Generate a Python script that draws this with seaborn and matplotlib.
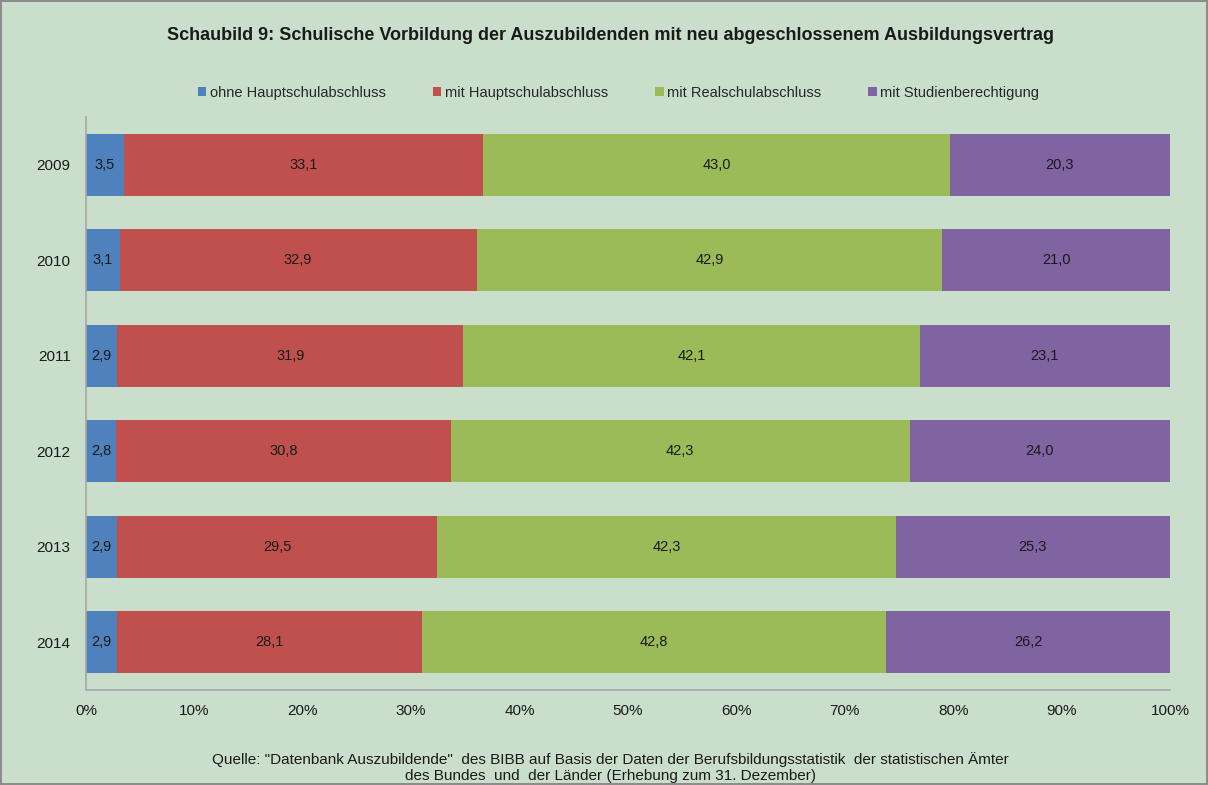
import matplotlib
matplotlib.use("Agg")
import matplotlib.pyplot as plt
import seaborn as sns
import numpy as np
import pandas as pd
from matplotlib.patches import Patch

years = ["2009", "2010", "2011", "2012", "2013", "2014"]
series_names = ["ohne Hauptschulabschluss", "mit Hauptschulabschluss",
                "mit Realschulabschluss", "mit Studienberechtigung"]
ohne_hs = [3.5, 3.1, 2.9, 2.8, 2.9, 2.9]
mit_hs = [33.1, 32.9, 31.9, 30.8, 29.5, 28.1]
mit_rs = [43.0, 42.9, 42.1, 42.3, 42.3, 42.8]
mit_stud = [20.3, 21.0, 23.1, 24.0, 25.3, 26.2]
colors = ["#4F81BD", "#C0504D", "#9BBB59", "#8064A2"]
xticks = [0, 10, 20, 30, 40, 50, 60, 70, 80, 90, 100]

bg = "#CADFCB"
sns.set_theme(style="white")
plt.rcParams["font.family"] = ["Liberation Sans", "DejaVu Sans"]

vals = np.array([ohne_hs, mit_hs, mit_rs, mit_stud])
shares = vals / vals.sum(axis=0) * 100
cum = np.cumsum(shares, axis=0)

fig = plt.figure(figsize=(12.08, 7.85), dpi=100)
fig.patch.set_facecolor(bg)
fig.patch.set_edgecolor("#8C8C8C")
fig.patch.set_linewidth(1.5)
ax = fig.add_axes([0.0712, 0.121, 0.8973, 0.730])
ax.set_facecolor(bg)

for i in range(3, -1, -1):
    df = pd.DataFrame({"Jahr": years, "wert": cum[i]})
    sns.barplot(data=df, x="wert", y="Jahr", orient="h", color=colors[i],
                saturation=1, width=0.65, ax=ax, order=years,
                linewidth=0, edgecolor="none")

for i in range(4):
    for j, y in enumerate(years):
        start = cum[i][j] - shares[i][j]
        ax.text(start + shares[i][j] / 2, j, f"{vals[i][j]:.1f}".replace(".", ","),
                ha="center", va="center", fontsize=10.5, color="#1a1a1a")

ax.set_xlim(0, 100)
ax.set_ylim(len(years) - 0.5, -0.5)
ax.set_xticks(xticks)
ax.set_xticklabels([f"{t}%" for t in xticks])
ax.set_xlabel("")
ax.set_ylabel("")
ax.tick_params(axis="both", length=0, labelsize=11, colors="#1a1a1a")
ax.tick_params(axis="y", pad=11)
ax.tick_params(axis="x", pad=10)
for s in ["top", "right"]:
    ax.spines[s].set_visible(False)
for s in ["left", "bottom"]:
    ax.spines[s].set_color("#A6A6A6")
    ax.spines[s].set_linewidth(1.2)

handles = [Patch(facecolor=c, edgecolor="none") for c in colors]
fig.legend(handles, series_names, loc="center", bbox_to_anchor=(0.512, 0.882),
           ncol=4, frameon=False, fontsize=10.5, handlelength=0.6, handleheight=0.6,
           handletextpad=0.25, columnspacing=3.2)

fig.text(0.505, 0.955, "Schaubild 9: Schulische Vorbildung der Auszubildenden mit neu abgeschlossenem Ausbildungsvertrag",
         ha="center", va="center", fontsize=13, fontweight="bold", color="#1a1a1a")
fig.text(0.505, 0.003, "Quelle: \"Datenbank Auszubildende\"  des BIBB auf Basis der Daten der Berufsbildungsstatistik  der statistischen Ämter\ndes Bundes  und  der Länder (Erhebung zum 31. Dezember)",
         ha="center", va="bottom", fontsize=11, color="#1a1a1a", linespacing=1.12)

fig.savefig("out.png", dpi=100, facecolor=fig.get_facecolor(), edgecolor=fig.get_edgecolor())
